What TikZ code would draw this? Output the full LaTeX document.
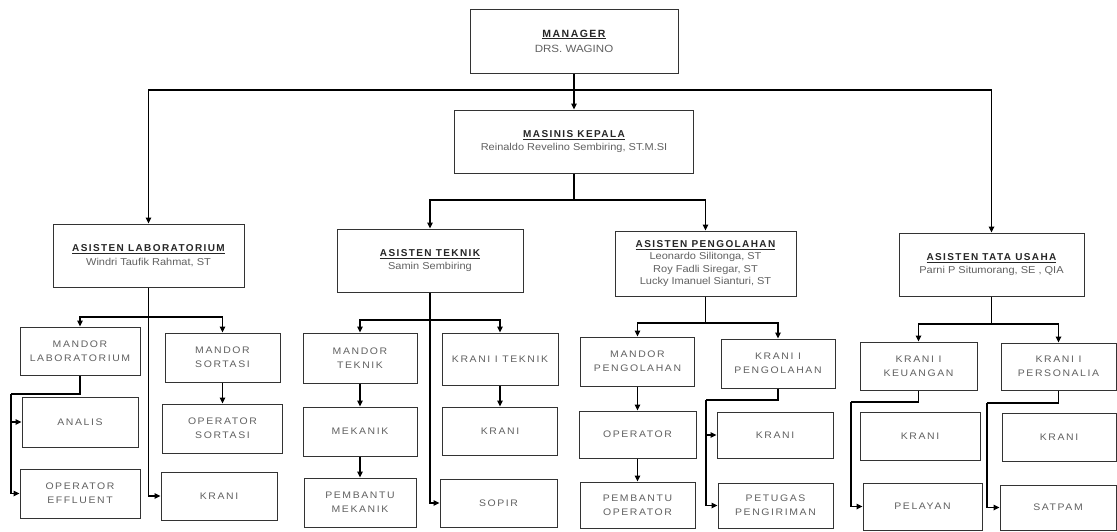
\documentclass[tikz,border=0pt]{standalone}
\usepackage{fontspec}
\setmainfont[FakeStretch=1.1]{Liberation Sans}
\newfontfamily\hdfont[LetterSpace=14]{Liberation Sans}
\newfontfamily\bxfont[LetterSpace=17,FakeStretch=1.1]{Liberation Sans}
\usetikzlibrary{arrows.meta}
\newcommand\hdl[1]{{\hdfont\bfseries\color{black!85}\underline{#1}}}
\begin{document}
\begin{tikzpicture}[x=1pt,y=-1pt,
  box/.style={draw=black!80, line width=1pt, fill=white, inner sep=1pt, align=center, text=black!62},
  hd/.style={box, font=\fontsize{10}{13.5}\selectfont},
  bt/.style={box, font=\bxfont\fontsize{9.5}{14}\selectfont},
  sz/.style n args={2}{minimum width=#1pt, minimum height=#2pt},
  ln/.style={line width=1.6pt, black},
  arr/.style={ln, -{Triangle[length=6pt,width=5.5pt]}}]
\useasboundingbox (0,0) rectangle (1117,531);

% top levels
\node[hd, sz={208}{64}, font=\fontsize{10.5}{15}\selectfont] (mgr) at (574,41) {\hdl{MANAGER}\\DRS. WAGINO};
\node[hd, sz={239}{63}] (mas) at (574,141.5) {\hdl{MASINIS KEPALA}\\Reinaldo Revelino Sembiring, ST.M.SI};
\node[hd, sz={191}{63}] (lab) at (148.5,255.5) {\hdl{ASISTEN LABORATORIUM}\\Windri Taufik Rahmat, ST};
\node[hd, sz={186}{63}] (tek) at (430,260.5) {\hdl{ASISTEN TEKNIK}\\Samin Sembiring};
\node[hd, sz={181}{65}, font=\fontsize{10}{12.5}\selectfont] (pen) at (705.5,263.5) {\hdl{ASISTEN PENGOLAHAN}\\Leonardo Silitonga, ST\\Roy Fadli Siregar, ST\\Lucky Imanuel Sianturi, ST};
\node[hd, sz={185}{63}] (tu) at (991.5,264.5) {\hdl{ASISTEN TATA USAHA}\\Parni P Situmorang, SE , QIA};

% bottom boxes
\node[bt, sz={120}{48}] (A1) at (80,351) {MANDOR\\LABORATORIUM};
\node[bt, sz={116}{50}] (A2) at (80,422) {ANALIS};
\node[bt, sz={120}{49}] (A3) at (80,493.5) {OPERATOR\\EFFLUENT};
\node[bt, sz={115}{49}] (B1) at (222.5,357.5) {MANDOR\\SORTASI};
\node[bt, sz={120}{49}] (B2) at (222.5,428.5) {OPERATOR\\SORTASI};
\node[bt, sz={116}{48}] (B3) at (219,496) {KRANI};
\node[bt, sz={114}{50}] (C1) at (360,358) {MANDOR\\TEKNIK};
\node[bt, sz={114}{49}] (C2) at (360,431.5) {MEKANIK};
\node[bt, sz={112}{49}] (C3) at (360,502.5) {PEMBANTU\\MEKANIK};
\node[bt, sz={116}{52}] (D1) at (500,359) {KRANI I TEKNIK};
\node[bt, sz={115}{48}] (D2) at (500,431) {KRANI};
\node[bt, sz={117}{48}] (D3) at (498.5,503) {SOPIR};
\node[bt, sz={114}{49}] (E1) at (637.5,361.5) {MANDOR\\PENGOLAHAN};
\node[bt, sz={117}{47}] (E2) at (637.5,434.5) {OPERATOR};
\node[bt, sz={115}{46}] (E3) at (637.5,505) {PEMBANTU\\OPERATOR};
\node[bt, sz={114}{49}] (F1) at (778,363.5) {KRANI I\\PENGOLAHAN};
\node[bt, sz={116}{46}] (F2) at (775,435) {KRANI};
\node[bt, sz={115}{45}] (F3) at (775.5,505.5) {PETUGAS\\PENGIRIMAN};
\node[bt, sz={117}{48}] (G1) at (918.5,366) {KRANI I\\KEUANGAN};
\node[bt, sz={120}{48}] (G2) at (920,436) {KRANI};
\node[bt, sz={119}{47}] (G3) at (922.5,506.5) {PELAYAN};
\node[bt, sz={115}{47}] (H1) at (1058.5,366.5) {KRANI I\\PERSONALIA};
\node[bt, sz={114}{48}] (H2) at (1059,437) {KRANI};
\node[bt, sz={116}{45}] (H3) at (1058,507.5) {SATPAM};

% junctions
\coordinate (j0) at (574,90);
\coordinate (j1) at (574,200);
\coordinate (jL) at (148.5,317);
\coordinate (kA) at (11,394);
\coordinate (jT) at (430,320);
\coordinate (jP) at (705.5,323);
\coordinate (kF) at (706,400);
\coordinate (jU) at (991.5,324);
\coordinate (kG) at (851,402);
\coordinate (kH) at (987,403);

% connectors
\draw[arr] (mgr.south) -- (mas.north);
\draw[arr] (j0) -| (lab.north);
\draw[arr] (j0) -| (tu.north);
\draw[ln] (mas.south) -- (j1);
\draw[arr] (j1) -| (tek.north);
\draw[arr] (j1) -| (pen.north);

\draw[arr] (lab.south) |- (B3.west);
\draw[arr] (jL) -| (A1.north);
\draw[arr] (jL) -| (B1.north);
\draw[ln] (A1.south) |- (kA);
\draw[arr] (kA) |- (A2.west);
\draw[arr] (kA) |- (A3.west);
\draw[arr] (B1.south) -- (B2.north);

\draw[arr] (tek.south) |- (D3.west);
\draw[arr] (jT) -| (C1.north);
\draw[arr] (jT) -| (D1.north);
\draw[arr] (C1.south) -- (C2.north);
\draw[arr] (C2.south) -- (C3.north);
\draw[arr] (D1.south) -- (D2.north);

\draw[ln] (pen.south) -- (jP);
\draw[arr] (jP) -| (E1.north);
\draw[arr] (jP) -| (F1.north);
\draw[arr] (E1.south) -- (E2.north);
\draw[arr] (E2.south) -- (E3.north);
\draw[ln] (F1.south) |- (kF);
\draw[arr] (kF) |- (F2.west);
\draw[arr] (kF) |- (F3.west);

\draw[ln] (tu.south) -- (jU);
\draw[arr] (jU) -| (G1.north);
\draw[arr] (jU) -| (H1.north);
\draw[ln] (G1.south) |- (kG);
\draw[arr] (kG) |- (G3.west);
\draw[ln] (H1.south) |- (kH);
\draw[arr] (kH) |- (H3.west);
\end{tikzpicture}
\end{document}
